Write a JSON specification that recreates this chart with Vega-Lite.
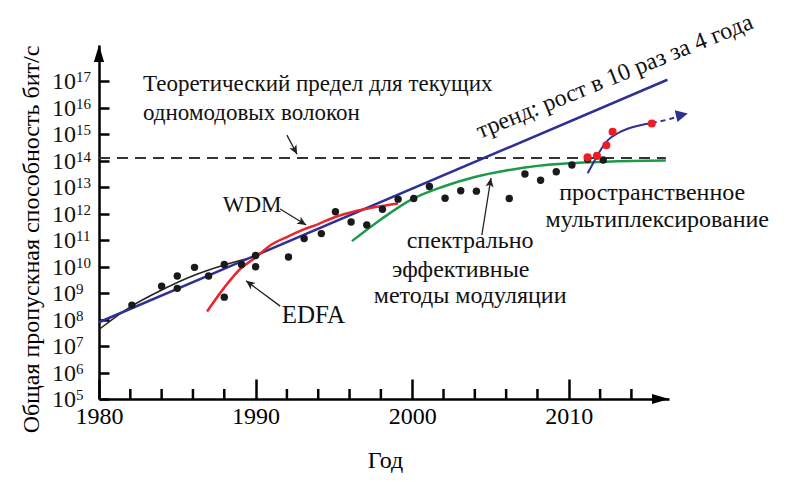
{
  "$schema": "https://vega.github.io/schema/vega-lite/v6.json",
  "width": 570,
  "height": 354,
  "autosize": {"type": "none"},
  "padding": {"left": 99, "top": 45, "right": 130, "bottom": 83},
  "background": "white",
  "config": {"view": {"stroke": null}, "font": "Liberation Serif"},
  "datasets": {
    "dots": [
      {"year": 1982.1, "cap": 3.5e8}, {"year": 1984.0, "cap": 1.8e9}, {"year": 1985.0, "cap": 1.5e9},
      {"year": 1985.0, "cap": 4.4e9}, {"year": 1986.1, "cap": 9.3e9}, {"year": 1987.0, "cap": 4.4e9},
      {"year": 1988.0, "cap": 7.0e8}, {"year": 1988.0, "cap": 1.2e10}, {"year": 1989.1, "cap": 1.2e10},
      {"year": 1990.0, "cap": 2.6e10}, {"year": 1990.0, "cap": 9.8e9}, {"year": 1992.1, "cap": 2.3e10},
      {"year": 1993.1, "cap": 1.15e11}, {"year": 1994.2, "cap": 1.75e11}, {"year": 1995.1, "cap": 1.17e12},
      {"year": 1996.1, "cap": 4.8e11}, {"year": 1997.1, "cap": 3.7e11}, {"year": 1998.1, "cap": 1.45e12},
      {"year": 1999.1, "cap": 3.5e12}, {"year": 2000.1, "cap": 3.7e12}, {"year": 2001.1, "cap": 1.05e13},
      {"year": 2002.1, "cap": 3.8e12}, {"year": 2003.1, "cap": 7.2e12}, {"year": 2004.1, "cap": 7.0e12},
      {"year": 2006.2, "cap": 3.7e12}, {"year": 2007.2, "cap": 3.1e13}, {"year": 2008.2, "cap": 1.8e13},
      {"year": 2009.2, "cap": 3.8e13}, {"year": 2010.2, "cap": 6.8e13}, {"year": 2011.2, "cap": 1.12e14},
      {"year": 2012.2, "cap": 1.05e14}
    ],
    "reddots": [
      {"year": 2011.2, "cap": 1.32e14}, {"year": 2011.8, "cap": 1.5e14}, {"year": 2012.4, "cap": 3.8e14},
      {"year": 2012.8, "cap": 1.23e15}, {"year": 2015.3, "cap": 2.5e15}
    ],
    "curves": [
      {"s": "limit", "year": 1980, "cap": 1.25e14}, {"s": "limit", "year": 2016.2, "cap": 1.25e14},
      {"s": "trend", "year": 1980, "cap": 7.9e7}, {"s": "trend", "year": 2016.3, "cap": 1.12e17},
      {"s": "early", "year": 1980, "cap": 4.2e7}, {"s": "early", "year": 1982, "cap": 3.0e8},
      {"s": "early", "year": 1984, "cap": 1.3e9}, {"s": "early", "year": 1986, "cap": 4.5e9},
      {"s": "early", "year": 1988, "cap": 1.15e10}, {"s": "early", "year": 1990, "cap": 2.4e10},
      {"s": "edfa", "year": 1986.9, "cap": 2.0e8}, {"s": "edfa", "year": 1988, "cap": 1.6e9},
      {"s": "edfa", "year": 1989, "cap": 7.9e9}, {"s": "edfa", "year": 1990, "cap": 2.2e10},
      {"s": "edfa", "year": 1991, "cap": 6.6e10}, {"s": "edfa", "year": 1992, "cap": 1.3e11},
      {"s": "edfa", "year": 1993, "cap": 2.4e11}, {"s": "edfa", "year": 1994, "cap": 4.0e11},
      {"s": "edfa", "year": 1995, "cap": 7.1e11}, {"s": "edfa", "year": 1996, "cap": 1.07e12},
      {"s": "edfa", "year": 1997, "cap": 1.48e12}, {"s": "edfa", "year": 1998, "cap": 1.9e12},
      {"s": "edfa", "year": 1999.1, "cap": 2.4e12},
      {"s": "green", "year": 1996.15, "cap": 9.1e10}, {"s": "green", "year": 1998, "cap": 6.0e11},
      {"s": "green", "year": 2000, "cap": 3.5e12}, {"s": "green", "year": 2002, "cap": 1.05e13},
      {"s": "green", "year": 2004, "cap": 2.4e13}, {"s": "green", "year": 2006, "cap": 4.2e13},
      {"s": "green", "year": 2008, "cap": 6.3e13}, {"s": "green", "year": 2010, "cap": 7.9e13},
      {"s": "green", "year": 2012.4, "cap": 9.1e13}, {"s": "green", "year": 2016.2, "cap": 1.0e14},
      {"s": "space", "year": 2011.2, "cap": 3.3e13}, {"s": "space", "year": 2011.6, "cap": 8.9e13},
      {"s": "space", "year": 2011.9, "cap": 1.86e14}, {"s": "space", "year": 2012.5, "cap": 5.9e14},
      {"s": "space", "year": 2013.1, "cap": 1.05e15}, {"s": "space", "year": 2013.8, "cap": 1.62e15},
      {"s": "space", "year": 2014.5, "cap": 2.1e15}, {"s": "space", "year": 2015.3, "cap": 2.6e15},
      {"s": "spacedash", "year": 2015.3, "cap": 2.6e15}, {"s": "spacedash", "year": 2016.3, "cap": 3.5e15},
      {"s": "spacedash", "year": 2017.1, "cap": 4.8e15}
    ],
    "arrows": [
      {"id": "limit", "year": 1992.0, "cap": 9.1e14, "year2": 1992.65, "cap2": 1.74e14},
      {"id": "wdm", "year": 1991.57, "cap": 1.48e12, "year2": 1993.23, "cap2": 3.7e11},
      {"id": "edfa", "year": 1991.57, "cap": 3.2e8, "year2": 1989.39, "cap2": 2.9e9},
      {"id": "spec", "year": 2004.45, "cap": 1.55e11, "year2": 2005.03, "cap2": 2.2e13},
      {"id": "space", "year": 2017.1, "cap": 4.8e15, "year2": 2017.6, "cap2": 6.0e15}
    ],
    "notesLeft": [
      {"t": "Теоретический предел для текущих", "year": 1982.81, "cap": 4.2e16},
      {"t": "одномодовых волокон", "year": 1982.81, "cap": 3.4e15},
      {"t": "WDM", "year": 1987.9, "cap": 1.17e12}
    ],
    "notesEdfa": [
      {"t": "EDFA", "year": 1991.67, "cap": 7.6e7}
    ],
    "notesCenter": [
      {"t": "спектрально", "year": 2003.7, "cap": 5.0e10},
      {"t": "эффективные", "year": 2003.1, "cap": 4.0e9},
      {"t": "методы модуляции", "year": 2003.7, "cap": 4.2e8},
      {"t": "пространственное", "year": 2015.33, "cap": 3.2e12},
      {"t": "мультиплексирование", "year": 2015.65, "cap": 3.1e11}
    ],
    "trendNote": [
      {"t": "тренд: рост в 10 раз за 4 года", "year": 2013.1, "cap": 8.3e16}
    ],
    "yticks": [
      {"cap": 1e5, "e": "5"}, {"cap": 1e6, "e": "6"}, {"cap": 1e7, "e": "7"}, {"cap": 1e8, "e": "8"},
      {"cap": 1e9, "e": "9"}, {"cap": 1e10, "e": "10"}, {"cap": 1e11, "e": "11"}, {"cap": 1e12, "e": "12"},
      {"cap": 1e13, "e": "13"}, {"cap": 1e14, "e": "14"}, {"cap": 1e15, "e": "15"}, {"cap": 1e16, "e": "16"},
      {"cap": 1e17, "e": "17"}
    ],
    "xminor": [
      {"year": 1982}, {"year": 1984}, {"year": 1986}, {"year": 1988}, {"year": 1992}, {"year": 1994},
      {"year": 1996}, {"year": 1998}, {"year": 2002}, {"year": 2004}, {"year": 2006}, {"year": 2008},
      {"year": 2012}, {"year": 2014}
    ]
  },
  "layer": [
    {
      "data": {"name": "curves"},
      "transform": [{"filter": "datum.s === 'limit'"}],
      "mark": {"type": "line", "color": "#333333", "strokeWidth": 2, "strokeDash": [11, 7]},
      "encoding": {
        "x": {
          "field": "year", "type": "quantitative",
          "scale": {"domain": [1980, 2016.4], "nice": false, "zero": false},
          "axis": {
            "values": [1980, 1990, 2000, 2010],
            "format": "d",
            "tickSize": -20, "tickWidth": 2.5, "tickColor": "black",
            "domainWidth": 2.5, "domainColor": "black", "grid": false,
            "labelFont": "Liberation Serif", "labelFontSize": 24, "labelColor": "black",
            "labelBaseline": "alphabetic", "labelPadding": 44, "labelFlush": false, "labelOverlap": false,
            "title": "Год", "titleFont": "Liberation Serif", "titleFontSize": 24, "titleFontWeight": "normal",
            "titleColor": "black", "titleX": 286, "titleY": 68, "titleBaseline": "alphabetic", "titleAlign": "center"
          }
        },
        "y": {
          "field": "cap", "type": "quantitative",
          "scale": {"type": "log", "domain": [1e5, 2.3e18], "nice": false},
          "axis": {
            "values": [1e5, 1e6, 1e7, 1e8, 1e9, 1e10, 1e11, 1e12, 1e13, 1e14, 1e15, 1e16, 1e17],
            "labels": false, "tickSize": -10, "tickWidth": 2.5, "tickColor": "black",
            "domainWidth": 2.5, "domainColor": "black", "grid": false,
            "title": "Общая пропускная способность бит/с", "titleFont": "Liberation Serif",
            "titleFontSize": 24, "titleFontWeight": "normal", "titleColor": "black",
            "titleX": -68, "titleY": 194, "titleAlign": "center", "titleBaseline": "middle", "titleAngle": 270
          }
        }
      }
    },
    {
      "data": {"name": "curves"},
      "transform": [{"filter": "datum.s === 'early'"}],
      "mark": {"type": "line", "color": "#222222", "strokeWidth": 1.5, "interpolate": "monotone"},
      "encoding": {"x": {"field": "year", "type": "quantitative"}, "y": {"field": "cap", "type": "quantitative"}}
    },
    {
      "data": {"name": "curves"},
      "transform": [{"filter": "datum.s === 'trend'"}],
      "mark": {"type": "line", "color": "#2e3092", "strokeWidth": 2.5},
      "encoding": {"x": {"field": "year", "type": "quantitative"}, "y": {"field": "cap", "type": "quantitative"}}
    },
    {
      "data": {"name": "curves"},
      "transform": [{"filter": "datum.s === 'edfa'"}],
      "mark": {"type": "line", "color": "#e8262b", "strokeWidth": 2.5, "interpolate": "monotone"},
      "encoding": {"x": {"field": "year", "type": "quantitative"}, "y": {"field": "cap", "type": "quantitative"}}
    },
    {
      "data": {"name": "curves"},
      "transform": [{"filter": "datum.s === 'green'"}],
      "mark": {"type": "line", "color": "#1b9a48", "strokeWidth": 2.5, "interpolate": "monotone"},
      "encoding": {"x": {"field": "year", "type": "quantitative"}, "y": {"field": "cap", "type": "quantitative"}}
    },
    {
      "data": {"name": "curves"},
      "transform": [{"filter": "datum.s === 'space'"}],
      "mark": {"type": "line", "color": "#2e3092", "strokeWidth": 2, "interpolate": "monotone"},
      "encoding": {"x": {"field": "year", "type": "quantitative"}, "y": {"field": "cap", "type": "quantitative"}}
    },
    {
      "data": {"name": "curves"},
      "transform": [{"filter": "datum.s === 'spacedash'"}],
      "mark": {"type": "line", "color": "#2e3092", "strokeWidth": 2, "strokeDash": [5, 4], "interpolate": "monotone"},
      "encoding": {"x": {"field": "year", "type": "quantitative"}, "y": {"field": "cap", "type": "quantitative"}}
    },
    {
      "data": {"name": "dots"},
      "mark": {"type": "point", "shape": "circle", "filled": true, "color": "#1a1a1a", "size": 55, "opacity": 1},
      "encoding": {"x": {"field": "year", "type": "quantitative"}, "y": {"field": "cap", "type": "quantitative"}}
    },
    {
      "data": {"name": "reddots"},
      "mark": {"type": "point", "shape": "circle", "filled": true, "color": "#ee1c25", "size": 65, "opacity": 1},
      "encoding": {"x": {"field": "year", "type": "quantitative"}, "y": {"field": "cap", "type": "quantitative"}}
    },
    {
      "data": {"name": "arrows"},
      "transform": [{"filter": "datum.id !== 'space'"}],
      "mark": {"type": "rule", "color": "#222222", "strokeWidth": 1.3},
      "encoding": {
        "x": {"field": "year", "type": "quantitative"}, "y": {"field": "cap", "type": "quantitative"},
        "x2": {"field": "year2"}, "y2": {"field": "cap2"}
      }
    },
    {
      "data": {"name": "arrows"},
      "transform": [{"filter": "datum.id === 'limit'"}],
      "mark": {"type": "point", "shape": "M0,0 L-0.45,1 L0,0.75 L0.45,1 Z", "filled": true, "color": "#222222", "size": 324, "opacity": 1, "angle": 152},
      "encoding": {"x": {"field": "year2", "type": "quantitative"}, "y": {"field": "cap2", "type": "quantitative"}}
    },
    {
      "data": {"name": "arrows"},
      "transform": [{"filter": "datum.id === 'wdm'"}],
      "mark": {"type": "point", "shape": "M0,0 L-0.45,1 L0,0.75 L0.45,1 Z", "filled": true, "color": "#222222", "size": 324, "opacity": 1, "angle": 122},
      "encoding": {"x": {"field": "year2", "type": "quantitative"}, "y": {"field": "cap2", "type": "quantitative"}}
    },
    {
      "data": {"name": "arrows"},
      "transform": [{"filter": "datum.id === 'edfa'"}],
      "mark": {"type": "point", "shape": "M0,0 L-0.45,1 L0,0.75 L0.45,1 Z", "filled": true, "color": "#222222", "size": 324, "opacity": 1, "angle": 307},
      "encoding": {"x": {"field": "year2", "type": "quantitative"}, "y": {"field": "cap2", "type": "quantitative"}}
    },
    {
      "data": {"name": "arrows"},
      "transform": [{"filter": "datum.id === 'spec'"}],
      "mark": {"type": "point", "shape": "M0,0 L-0.45,1 L0,0.75 L0.45,1 Z", "filled": true, "color": "#222222", "size": 324, "opacity": 1, "angle": 9},
      "encoding": {"x": {"field": "year2", "type": "quantitative"}, "y": {"field": "cap2", "type": "quantitative"}}
    },
    {
      "data": {"name": "arrows"},
      "transform": [{"filter": "datum.id === 'space'"}],
      "mark": {"type": "point", "shape": "M0,0 L-0.5,1 L0.5,1 Z", "filled": true, "color": "#2e3092", "size": 576, "opacity": 1, "angle": 77},
      "encoding": {"x": {"field": "year2", "type": "quantitative"}, "y": {"field": "cap2", "type": "quantitative"}}
    },
    {
      "data": {"name": "notesLeft"},
      "mark": {"type": "text", "font": "Liberation Serif", "fontSize": 23, "align": "left", "baseline": "alphabetic", "color": "#111111"},
      "encoding": {"x": {"field": "year", "type": "quantitative"}, "y": {"field": "cap", "type": "quantitative"}, "text": {"field": "t"}}
    },
    {
      "data": {"name": "notesEdfa"},
      "mark": {"type": "text", "font": "Liberation Serif", "fontSize": 25, "align": "left", "baseline": "alphabetic", "color": "#111111"},
      "encoding": {"x": {"field": "year", "type": "quantitative"}, "y": {"field": "cap", "type": "quantitative"}, "text": {"field": "t"}}
    },
    {
      "data": {"name": "notesCenter"},
      "mark": {"type": "text", "font": "Liberation Serif", "fontSize": 24, "align": "center", "baseline": "alphabetic", "color": "#111111"},
      "encoding": {"x": {"field": "year", "type": "quantitative"}, "y": {"field": "cap", "type": "quantitative"}, "text": {"field": "t"}}
    },
    {
      "data": {"name": "trendNote"},
      "mark": {"type": "text", "font": "Liberation Serif", "fontSize": 24, "align": "center", "baseline": "alphabetic", "angle": 338, "color": "#111111"},
      "encoding": {"x": {"field": "year", "type": "quantitative"}, "y": {"field": "cap", "type": "quantitative"}, "text": {"field": "t"}}
    },
    {
      "data": {"name": "yticks"},
      "mark": {"type": "text", "font": "Liberation Serif", "fontSize": 24, "align": "right", "baseline": "alphabetic", "dx": -23, "dy": 8, "color": "#111111", "text": "10"},
      "encoding": {"x": {"datum": 1980, "type": "quantitative"}, "y": {"field": "cap", "type": "quantitative"}}
    },
    {
      "data": {"name": "yticks"},
      "mark": {"type": "text", "font": "Liberation Serif", "fontSize": 15, "align": "left", "baseline": "alphabetic", "dx": -23, "dy": 1, "color": "#111111"},
      "encoding": {"x": {"datum": 1980, "type": "quantitative"}, "y": {"field": "cap", "type": "quantitative"}, "text": {"field": "e"}}
    },
    {
      "data": {"name": "xminor"},
      "mark": {"type": "tick", "orient": "vertical", "size": 10, "thickness": 2.5, "yOffset": -5, "color": "black", "opacity": 1},
      "encoding": {"x": {"field": "year", "type": "quantitative"}, "y": {"datum": 1e5, "type": "quantitative"}}
    },
    {
      "data": {"values": [{}]},
      "mark": {"type": "point", "shape": "M0,0 L-0.3,1 L0.3,1 Z", "filled": true, "color": "black", "size": 1156, "opacity": 1},
      "encoding": {"x": {"datum": 1980, "type": "quantitative"}, "y": {"datum": 2.3e18, "type": "quantitative"}}
    },
    {
      "data": {"values": [{}]},
      "mark": {"type": "point", "shape": "M0,0 L-1,-0.3 L-1,0.3 Z", "filled": true, "color": "black", "size": 1156, "opacity": 1},
      "encoding": {"x": {"datum": 2016.4, "type": "quantitative"}, "y": {"datum": 1e5, "type": "quantitative"}}
    }
  ]
}
